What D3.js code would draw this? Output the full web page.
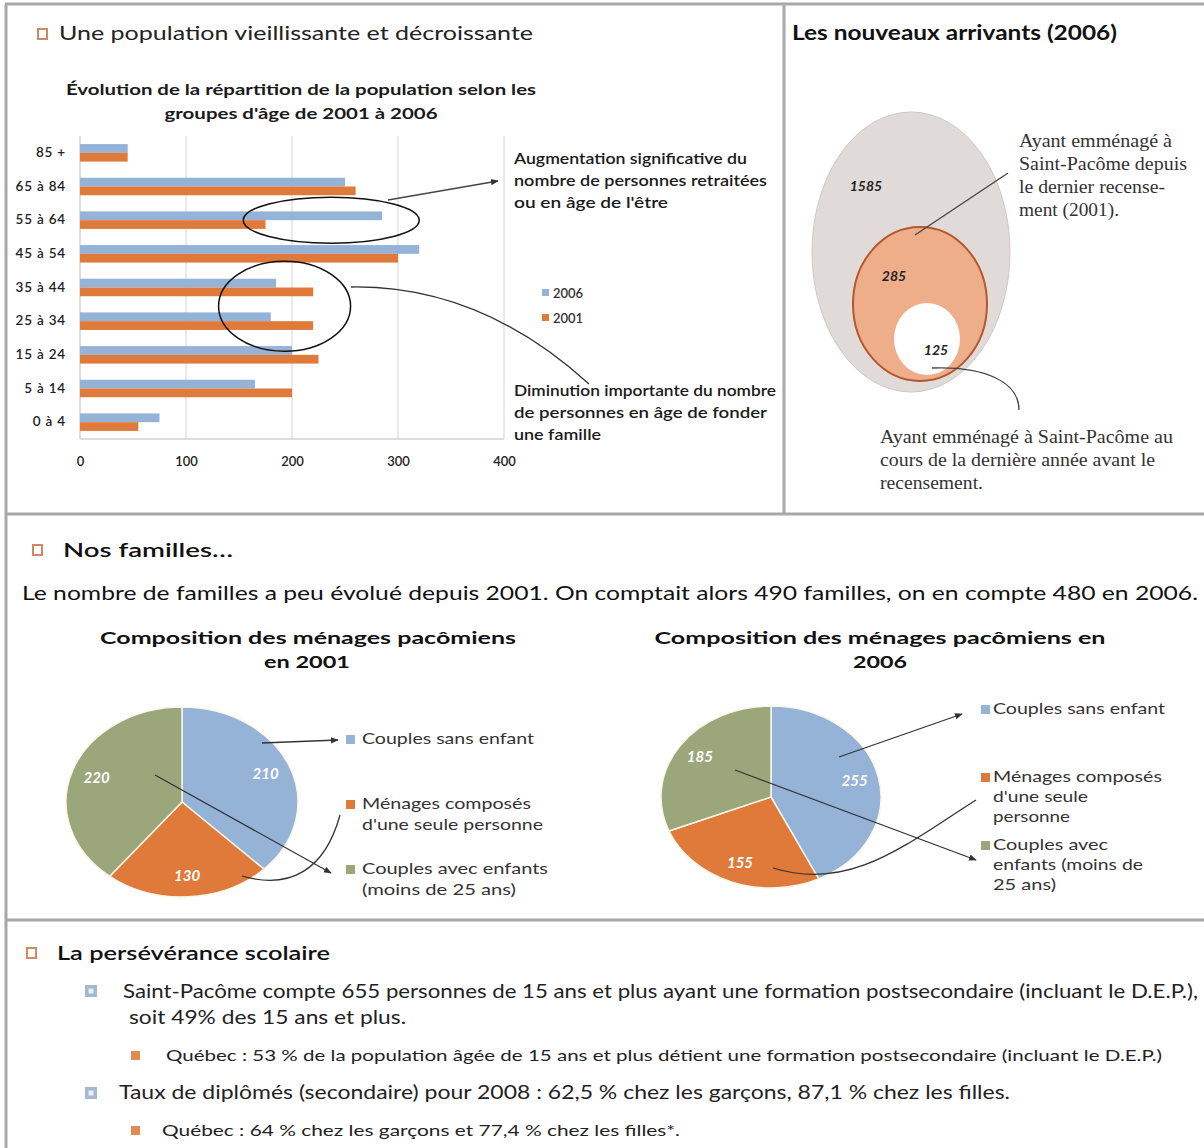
<!DOCTYPE html>
<html lang="fr">
<head>
  <meta charset="utf-8">
  <title>Saint-Pacôme</title>
  <script src="https://d3js.org/d3.v7.min.js"></script>
  <style>
    body { margin: 0; background: #fff; }
    text { font-family: "Lato", "Open Sans", sans-serif; fill: #1a1a1a; }
    .serif { font-family: "Liberation Serif", "DejaVu Serif", serif; fill: #333; }
  </style>
</head>
<body>
<script>
// données du graphique à barres
var ageGroups = ["85 +", "65 à 84", "55 à 64", "45 à 54", "35 à 44", "25 à 34", "15 à 24", "5 à 14", "0 à 4"];
var pop2006 = [45, 250, 285, 320, 185, 180, 200, 165, 75];
var pop2001 = [45, 260, 175, 300, 220, 220, 225, 200, 55];
var years = ["2006", "2001"];
var xTicks = [0, 100, 200, 300, 400];

// nouveaux arrivants
var vennValues = [1585, 285, 125];

// composition des ménages
var menageCats = ["Couples sans enfant", "Ménages composés d'une seule personne", "Couples avec enfants (moins de 25 ans)"];
var menages2001 = [210, 130, 220];
var menages2006 = [255, 155, 185];

var blue = "#94b3d7", orange = "#e07a3a", green = "#9ba67b";
var frame = "#a8a8a8";

var svg = d3.select("body").append("svg")
  .attr("width", 1204)
  .attr("height", 1148);

var defs = svg.append("defs");
defs.append("marker")
  .attr("id", "arrow")
  .attr("viewBox", "0 0 10 10")
  .attr("refX", 9).attr("refY", 5)
  .attr("markerWidth", 6).attr("markerHeight", 6)
  .attr("orient", "auto")
  .append("path").attr("d", "M0,1 L10,5 L0,9 z").attr("fill", "#333");

// petite fonction pour le texte, w = largeur a respecter
function label(g, x, y, str, o) {
  o = o || {};
  var t = g.append("text")
    .attr("x", x).attr("y", y)
    .attr("font-size", o.size || 15)
    .attr("font-weight", o.weight || 400)
    .text(str);
  if (o.anchor) t.attr("text-anchor", o.anchor);
  if (o.italic) t.attr("font-style", "italic");
  if (o.fill) t.style("fill", o.fill);
  if (o.cls) t.attr("class", o.cls);
  if (o.w) t.attr("textLength", o.w).attr("lengthAdjust", "spacingAndGlyphs");
  return t;
}

function headSquare(x, y, col) {
  svg.append("rect").attr("x", x).attr("y", y).attr("width", 9).attr("height", 10)
    .attr("fill", "#fff").attr("stroke", col).attr("stroke-width", 2);
}

// cadre
svg.append("line").attr("x1", 5).attr("y1", 4).attr("x2", 1204).attr("y2", 4).attr("stroke", frame).attr("stroke-width", 3);
svg.append("line").attr("x1", 6).attr("y1", 4).attr("x2", 6).attr("y2", 1148).attr("stroke", frame).attr("stroke-width", 3);
svg.append("line").attr("x1", 784).attr("y1", 4).attr("x2", 784).attr("y2", 514).attr("stroke", frame).attr("stroke-width", 3);
svg.append("line").attr("x1", 6).attr("y1", 514).attr("x2", 1204).attr("y2", 514).attr("stroke", frame).attr("stroke-width", 3);
svg.append("line").attr("x1", 6).attr("y1", 920).attr("x2", 1204).attr("y2", 920).attr("stroke", frame).attr("stroke-width", 3);

// ---------- section 1 : barres ----------
headSquare(38, 29, "#d08a63");
label(svg, 59, 40, "Une population vieillissante et décroissante", {size: 20, w: 474, fill: "#222"});
label(svg, 301, 95, "Évolution de la répartition de la population selon les", {size: 16, weight: 700, anchor: "middle", w: 470});
label(svg, 301, 119, "groupes d'âge de 2001 à 2006", {size: 16, weight: 700, anchor: "middle", w: 273});

var x = d3.scaleLinear().domain([0, 400]).range([80, 504]);
var y = d3.scaleBand().domain(ageGroups).range([136, 439]).paddingInner(0.48).paddingOuter(0.24);
var ySub = d3.scaleBand().domain(years).range([0, y.bandwidth()]);

var bars = svg.append("g");
bars.selectAll("line.grid")
  .data(xTicks.slice(1))
  .enter().append("line")
  .attr("x1", function(d) { return x(d); }).attr("x2", function(d) { return x(d); })
  .attr("y1", 136).attr("y2", 439)
  .attr("stroke", "#d4d4d4");
bars.append("line").attr("x1", x(0)).attr("x2", x(0)).attr("y1", 136).attr("y2", 439).attr("stroke", "#bdbdbd");
bars.append("line").attr("x1", x(0)).attr("x2", x(400)).attr("y1", 439).attr("y2", 439).attr("stroke", "#bdbdbd");

var rows = ageGroups.map(function(a, i) { return {age: a, v: {"2006": pop2006[i], "2001": pop2001[i]}}; });
var grp = bars.selectAll("g.row").data(rows).enter().append("g")
  .attr("transform", function(d) { return "translate(0," + y(d.age) + ")"; });
grp.selectAll("rect")
  .data(function(d) { return years.map(function(k) { return {k: k, v: d.v[k]}; }); })
  .enter().append("rect")
  .attr("x", x(0))
  .attr("y", function(d) { return ySub(d.k); })
  .attr("width", function(d) { return x(d.v) - x(0); })
  .attr("height", ySub.bandwidth())
  .attr("fill", function(d) { return d.k === "2006" ? blue : orange; });

var xAxis = bars.append("g").attr("transform", "translate(0,439)")
  .call(d3.axisBottom(x).tickValues(xTicks).tickSize(0).tickPadding(18));
xAxis.select(".domain").remove();
xAxis.selectAll("text").attr("font-size", 13).attr("font-weight", 600).style("fill", "#222").style("font-family", "Lato");

var yAxis = bars.append("g").attr("transform", "translate(80,0)")
  .call(d3.axisLeft(y).tickSize(0).tickPadding(14));
yAxis.select(".domain").remove();
yAxis.selectAll("text").attr("font-size", 13.5).attr("font-weight", 600).attr("letter-spacing", 0.8)
  .style("fill", "#222").style("font-family", "Lato");

// légende
years.forEach(function(k, i) {
  svg.append("rect").attr("x", 542).attr("y", 289 + i * 25).attr("width", 7).attr("height", 7)
    .attr("fill", k === "2006" ? blue : orange);
  label(svg, 553, 298 + i * 25, k, {size: 13, weight: 600, fill: "#333"});
});

// annotations
svg.append("ellipse").attr("cx", x(237)).attr("cy", y("55 à 64") + y.bandwidth() / 2)
  .attr("rx", 88).attr("ry", 23).attr("fill", "none").attr("stroke", "#111").attr("stroke-width", 1.5);
svg.append("ellipse").attr("cx", x(193)).attr("cy", y("35 à 44") + y.bandwidth() + 10)
  .attr("rx", 66).attr("ry", 45).attr("fill", "none").attr("stroke", "#111").attr("stroke-width", 1.5);
svg.append("line").attr("x1", 388).attr("y1", 200).attr("x2", 498).attr("y2", 181)
  .attr("stroke", "#444").attr("stroke-width", 1.3).attr("marker-end", "url(#arrow)");
svg.append("path").attr("d", "M351,287 Q480,285 589,384")
  .attr("fill", "none").attr("stroke", "#333").attr("stroke-width", 1.3);

var noteA = ["Augmentation significative du", "nombre de personnes retraitées", "ou en âge de l'être"];
var noteAw = [233, 253, 154];
noteA.forEach(function(s, i) { label(svg, 514, 164 + i * 22, s, {size: 15, weight: 600, w: noteAw[i], fill: "#1a1a1a"}); });
var noteB = ["Diminution importante du nombre", "de personnes en âge de fonder", "une famille"];
var noteBw = [262, 253, 87];
noteB.forEach(function(s, i) { label(svg, 514, 396 + i * 22, s, {size: 15, weight: 600, w: noteBw[i], fill: "#1a1a1a"}); });

// ---------- section 1b : nouveaux arrivants ----------
label(svg, 792, 40, "Les nouveaux arrivants (2006)", {size: 20, weight: 700, w: 325, fill: "#111"});

var venn = svg.append("g");
var vennShapes = [
  {cx: 911, cy: 252, rx: 99, ry: 140, fill: "#e0dbd8", stroke: "#cfc9c6", sw: 1, lx: 866, ly: 191},
  {cx: 920, cy: 304, rx: 67, ry: 77, fill: "#eeae8a", stroke: "#b4592f", sw: 2, lx: 894, ly: 281},
  {cx: 927, cy: 339, rx: 33, ry: 36, fill: "#ffffff", stroke: "none", sw: 0, lx: 936, ly: 355}
];
venn.selectAll("ellipse").data(vennShapes).enter().append("ellipse")
  .attr("cx", function(d) { return d.cx; }).attr("cy", function(d) { return d.cy; })
  .attr("rx", function(d) { return d.rx; }).attr("ry", function(d) { return d.ry; })
  .attr("fill", function(d) { return d.fill; })
  .attr("stroke", function(d) { return d.stroke; })
  .attr("stroke-width", function(d) { return d.sw; });
venn.selectAll("text").data(vennValues).enter().append("text")
  .attr("x", function(d, i) { return vennShapes[i].lx; })
  .attr("y", function(d, i) { return vennShapes[i].ly; })
  .attr("text-anchor", "middle")
  .attr("font-size", 14).attr("font-weight", 700).attr("font-style", "italic")
  .style("fill", "#222")
  .text(function(d) { return d; });

svg.append("line").attr("x1", 915).attr("y1", 235).attr("x2", 1008).attr("y2", 173)
  .attr("stroke", "#444").attr("stroke-width", 1.3);
svg.append("path").attr("d", "M932,368 C985,366 1019,382 1019,410")
  .attr("fill", "none").attr("stroke", "#444").attr("stroke-width", 1.3);

var vt1 = ["Ayant emménagé à", "Saint-Pacôme depuis", "le dernier recense-", "ment (2001)."];
var vt1w = [153, 168, 146, 100];
vt1.forEach(function(s, i) { label(svg, 1019, 147 + i * 23, s, {size: 18, cls: "serif", w: vt1w[i]}); });
var vt2 = ["Ayant emménagé à Saint-Pacôme au", "cours de la dernière année avant le", "recensement."];
var vt2w = [293, 275, 103];
vt2.forEach(function(s, i) { label(svg, 880, 443 + i * 23, s, {size: 18, cls: "serif", w: vt2w[i]}); });

// ---------- section 2 : familles ----------
headSquare(33, 545, "#d08a63");
label(svg, 63, 557, "Nos familles…", {size: 20, weight: 600, w: 170, fill: "#111"});
label(svg, 22, 600, "Le nombre de familles a peu évolué depuis 2001. On comptait alors 490 familles, on en compte 480 en 2006.",
  {size: 20, w: 1176, fill: "#111"});

var pieColors = [blue, orange, green];
var pie = d3.pie().sort(null).value(function(d) { return d; });
var arc = d3.arc().innerRadius(0).outerRadius(100);

function drawPie(values, cx, cy, rx, ry) {
  var arcs = pie(values);
  var g = svg.append("g").attr("transform", "translate(" + cx + "," + cy + ") scale(" + rx / 100 + "," + ry / 100 + ")");
  g.selectAll("path").data(arcs).enter().append("path")
    .attr("d", arc)
    .attr("fill", function(d, i) { return pieColors[i]; })
    .attr("stroke", "#fbf6ea").attr("stroke-width", 1.5)
    .attr("vector-effect", "non-scaling-stroke");
  svg.append("g").selectAll("text").data(arcs).enter().append("text")
    .attr("x", function(d) { var m = (d.startAngle + d.endAngle) / 2; return cx + rx * 0.78 * Math.sin(m); })
    .attr("y", function(d) { var m = (d.startAngle + d.endAngle) / 2; return cy - ry * 0.78 * Math.cos(m) + 5; })
    .attr("text-anchor", "middle")
    .attr("font-size", 15).attr("font-weight", 700).attr("font-style", "italic")
    .style("fill", "#fff")
    .text(function(d) { return d.data; });
}

// 2001
label(svg, 308, 644, "Composition des ménages pacômiens", {size: 17, weight: 700, anchor: "middle", w: 416, fill: "#111"});
label(svg, 307, 668, "en 2001", {size: 17, weight: 700, anchor: "middle", w: 86, fill: "#111"});
drawPie(menages2001, 182, 802, 116, 95);

var leg1 = [[["Couples sans enfant"], 744, [172]],
            [["Ménages composés", "d'une seule personne"], 809, [169, 181]],
            [["Couples avec enfants", "(moins de 25 ans)"], 874, [186, 154]]];
leg1.forEach(function(l, i) {
  svg.append("rect").attr("x", 346).attr("y", l[1] - 9).attr("width", 9).attr("height", 9).attr("fill", pieColors[i]);
  l[0].forEach(function(s, j) { label(svg, 362, l[1] + j * 21, s, {size: 15, w: l[2][j], fill: "#333"}); });
});
svg.append("line").attr("x1", 262).attr("y1", 743).attr("x2", 338).attr("y2", 740)
  .attr("stroke", "#333").attr("stroke-width", 1.3).attr("marker-end", "url(#arrow)");
svg.append("line").attr("x1", 155).attr("y1", 775).attr("x2", 331).attr("y2", 873)
  .attr("stroke", "#333").attr("stroke-width", 1.3).attr("marker-end", "url(#arrow)");
svg.append("path").attr("d", "M242,876 C290,890 325,870 340,815")
  .attr("fill", "none").attr("stroke", "#333").attr("stroke-width", 1.3);

// 2006
label(svg, 880, 644, "Composition des ménages pacômiens en", {size: 17, weight: 700, anchor: "middle", w: 451, fill: "#111"});
label(svg, 880, 668, "2006", {size: 17, weight: 700, anchor: "middle", w: 54, fill: "#111"});
drawPie(menages2006, 771, 797, 110, 91);

var leg2 = [[["Couples sans enfant"], 714, [172]],
            [["Ménages composés", "d'une seule", "personne"], 782, [169, 95, 77]],
            [["Couples avec", "enfants (moins de", "25 ans)"], 850, [115, 150, 63]]];
leg2.forEach(function(l, i) {
  svg.append("rect").attr("x", 981).attr("y", l[1] - 9).attr("width", 9).attr("height", 9).attr("fill", pieColors[i]);
  l[0].forEach(function(s, j) { label(svg, 993, l[1] + j * 20, s, {size: 15, w: l[2][j], fill: "#333"}); });
});
svg.append("line").attr("x1", 839).attr("y1", 757).attr("x2", 962).attr("y2", 714)
  .attr("stroke", "#333").attr("stroke-width", 1.3).attr("marker-end", "url(#arrow)");
svg.append("line").attr("x1", 735).attr("y1", 770).attr("x2", 976).attr("y2", 860)
  .attr("stroke", "#333").attr("stroke-width", 1.3).attr("marker-end", "url(#arrow)");
svg.append("path").attr("d", "M773,868 C850,892 905,845 976,800")
  .attr("fill", "none").attr("stroke", "#333").attr("stroke-width", 1.3);

// ---------- section 3 : persévérance ----------
headSquare(27, 948, "#d08a63");
label(svg, 57, 960, "La persévérance scolaire", {size: 20, weight: 600, w: 273, fill: "#111"});

function blueBullet(bx, by) {
  svg.append("rect").attr("x", bx).attr("y", by).attr("width", 12).attr("height", 12).attr("fill", "#a3b9d3");
  svg.append("rect").attr("x", bx + 3.5).attr("y", by + 3.5).attr("width", 5).attr("height", 5).attr("fill", "#e8eef6");
}
function orangeBullet(bx, by) {
  svg.append("rect").attr("x", bx).attr("y", by).attr("width", 9).attr("height", 9).attr("fill", "#e08a55");
}

blueBullet(85, 985);
label(svg, 123, 998, "Saint-Pacôme compte 655 personnes de 15 ans et plus ayant une formation postsecondaire (incluant le D.E.P.),",
  {size: 19, w: 1075, fill: "#222"});
label(svg, 129, 1024, "soit 49% des 15 ans et plus.", {size: 19, w: 277, fill: "#222"});
orangeBullet(131, 1051);
label(svg, 166, 1061, "Québec : 53 % de la population âgée de 15 ans et plus détient une formation postsecondaire (incluant le D.E.P.)",
  {size: 16, w: 996, fill: "#222"});
blueBullet(85, 1087);
label(svg, 119, 1099, "Taux de diplômés (secondaire) pour 2008 : 62,5 % chez les garçons, 87,1 % chez les filles.",
  {size: 19, w: 891, fill: "#222"});
orangeBullet(131, 1126);
label(svg, 162, 1136, "Québec : 64 % chez les garçons et 77,4 % chez les filles*.", {size: 16, w: 518, fill: "#222"});
</script>
</body>
</html>
